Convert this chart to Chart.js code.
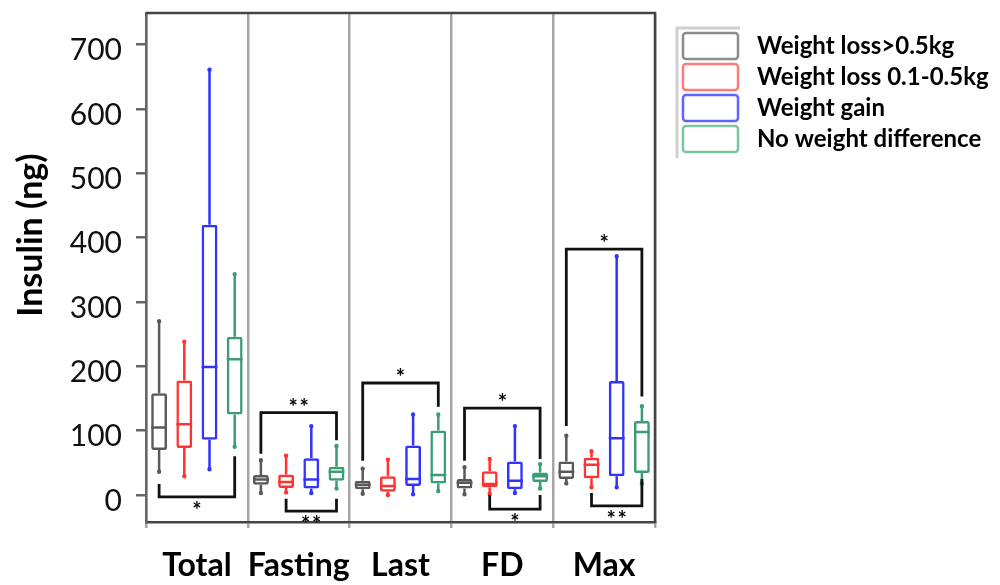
<!DOCTYPE html>
<html>
<head>
<meta charset="utf-8">
<script src="https://cdn.jsdelivr.net/npm/chart.js@4"></script>
<style>
  html, body { margin: 0; padding: 0; background: #fff; }
</style>
</head>
<body>
<canvas id="myChart" width="1000" height="585"></canvas>
<script>
var categories = ['Total', 'Fasting', 'Last', 'FD', 'Max']
var seriesNames = ['Weight loss>0.5kg', 'Weight loss 0.1-0.5kg', 'Weight gain', 'No weight difference']

// each entry: [min, q1, median, q3, max] for Total, Fasting, Last, FD, Max
var lossOver05 = [[36, 70, 105, 158, 270], [3, 16, 24, 31, 54], [2, 9, 16, 22, 41], [1, 10, 19, 25, 43], [18, 25, 36, 52, 92]]
var lossSmall = [[29, 73, 110, 178, 238], [4, 11, 20, 32, 61], [0, 5, 14, 29, 55], [2, 12, 17, 37, 56], [12, 26, 47, 58, 68]]
var weightGain = [[40, 86, 199, 420, 661], [3, 10, 24, 57, 107], [1, 14, 25, 77, 125], [3, 9, 22, 52, 107], [12, 29, 88, 177, 371]]
var noDiff = [[75, 125, 211, 246, 343], [10, 22, 36, 44, 76], [6, 18, 31, 100, 125], [10, 20, 29, 35, 48], [18, 34, 98, 115, 138]]

// significance brackets: [category, from series, to series, bar value, left leg end, right leg end, stars]
var brackets = [
  [0, 0, 3, -3, 17, 60, '*'],
  [1, 0, 3, 128, 64, 85, '**'],
  [1, 1, 3, -25, -6, -6, '**'],
  [2, 0, 3, 174, 53, 137, '*'],
  [3, 0, 3, 135, 53, 56, '*'],
  [3, 1, 3, -22, 0, 0, '*'],
  [4, 0, 3, 382, 107, 153, '*'],
  [4, 1, 3, -17, 3, 25, '**']
]

var lineColors = ['#595959', '#ff3333', '#3333ff', '#3a9d74']
var legendColors = ['#8c8c8c', '#ff7b7b', '#6262ff', '#7cc4a2']
var allStats = [lossOver05, lossSmall, weightGain, noDiff]

var boxPlugin = {
  id: 'boxes',
  afterDatasetsDraw: function (chart) {
    var ctx = chart.ctx
    var y = chart.scales.y
    var area = chart.chartArea

    // whiskers, medians
    chart.data.datasets.forEach(function (ds, i) {
      var meta = chart.getDatasetMeta(i)
      ds.stats.forEach(function (s, j) {
        var bar = meta.data[j]
        var x = bar.x
        var half = bar.width / 2
        ctx.save()
        ctx.strokeStyle = ds.borderColor
        ctx.fillStyle = ds.borderColor
        ctx.lineWidth = 2.5
        ctx.beginPath()
        ctx.moveTo(x, y.getPixelForValue(s[3]))
        ctx.lineTo(x, y.getPixelForValue(s[4]))
        ctx.moveTo(x, y.getPixelForValue(s[1]))
        ctx.lineTo(x, y.getPixelForValue(s[0]))
        ctx.moveTo(x - half, y.getPixelForValue(s[2]))
        ctx.lineTo(x + half, y.getPixelForValue(s[2]))
        ctx.stroke()
        ctx.beginPath()
        ctx.arc(x, y.getPixelForValue(s[4]), 2.2, 0, Math.PI * 2)
        ctx.arc(x, y.getPixelForValue(s[0]), 2.2, 0, Math.PI * 2)
        ctx.fill()
        ctx.restore()
      })
    })

    // brackets
    ctx.save()
    ctx.strokeStyle = '#111'
    ctx.fillStyle = '#000'
    ctx.lineWidth = 2.8
    ctx.lineJoin = 'miter'
    ctx.font = 'bold 22px Lato'
    ctx.textAlign = 'center'
    ctx.textBaseline = 'middle'
    brackets.forEach(function (b) {
      var x1 = chart.getDatasetMeta(b[1]).data[b[0]].x
      var x2 = chart.getDatasetMeta(b[2]).data[b[0]].x
      var yb = y.getPixelForValue(b[3])
      ctx.beginPath()
      ctx.moveTo(x1, y.getPixelForValue(b[4]))
      ctx.lineTo(x1, yb)
      ctx.lineTo(x2, yb)
      ctx.lineTo(x2, y.getPixelForValue(b[5]))
      ctx.stroke()
      var above = b[4] < b[3]
      var sy = above ? yb - 10 : yb + 9
      var cx = (x1 + x2) / 2
      var n = b[6].length
      for (var k = 0; k < n; k++) {
        ctx.fillText('*', cx + (k - (n - 1) / 2) * 11, sy + 5)
      }
    })
    ctx.restore()

    // top and right frame
    ctx.save()
    ctx.strokeStyle = '#444'
    ctx.lineWidth = 2.5
    ctx.beginPath()
    ctx.moveTo(area.left, area.top)
    ctx.lineTo(area.right, area.top)
    ctx.lineTo(area.right, area.bottom)
    ctx.stroke()
    ctx.restore()

    // y title
    ctx.save()
    ctx.translate(31, 235)
    ctx.rotate(-Math.PI / 2)
    ctx.font = 'bold 34px Lato'
    ctx.fillStyle = '#000'
    ctx.textAlign = 'center'
    ctx.textBaseline = 'middle'
    ctx.fillText('Insulin (ng)', 0, 0)
    ctx.restore()

    // legend
    ctx.save()
    ctx.strokeStyle = '#cfcfcf'
    ctx.lineWidth = 3
    ctx.beginPath()
    ctx.moveTo(677, 158)
    ctx.lineTo(677, 28)
    ctx.lineTo(740, 28)
    ctx.stroke()
    ctx.font = 'bold 24px Lato'
    ctx.textBaseline = 'middle'
    ctx.textAlign = 'left'
    chart.data.datasets.forEach(function (ds, i) {
      var top = 33 + i * 31
      ctx.strokeStyle = legendColors[i]
      ctx.lineWidth = 2.5
      ctx.beginPath()
      ctx.roundRect(683, top, 55, 26, 3)
      ctx.stroke()
      ctx.fillStyle = '#000'
      ctx.fillText(ds.label, 757, top + 13)
    })
    ctx.restore()
  }
}

var datasets = seriesNames.map(function (name, i) {
  return {
    label: name,
    stats: allStats[i],
    data: allStats[i].map(function (s) { return [s[1], s[3]] }),
    backgroundColor: 'rgba(255,255,255,0)',
    borderColor: lineColors[i],
    borderWidth: 2.5,
    borderSkipped: false,
    borderRadius: 2,
    categoryPercentage: 0.99,
    barPercentage: 0.63
  }
})

var ctx = document.getElementById('myChart').getContext('2d')
var myChart = new Chart(ctx, {
  type: 'bar',
  data: {
    labels: categories,
    datasets: datasets
  },
  options: {
    responsive: false,
    animation: false,
    layout: { padding: { top: 13, right: 345, left: 0, bottom: 0 } },
    plugins: {
      legend: { display: false },
      tooltip: { enabled: false }
    },
    scales: {
      x: {
        grid: { offset: true, color: '#a6a6a6', lineWidth: 2.5, tickLength: 6 },
        border: { color: '#444', width: 2.5 },
        ticks: {
          color: '#000',
          font: { family: 'Lato', weight: 'bold', size: 32 },
          padding: 18,
          autoSkip: false,
          maxRotation: 0,
          minRotation: 0
        },
        afterFit: function (s) { s.height = 63 }
      },
      y: {
        min: -42,
        max: 749,
        grid: { drawOnChartArea: false, tickLength: 10, color: '#666', lineWidth: 2.5 },
        border: { color: '#666', width: 2.5 },
        ticks: {
          stepSize: 50,
          includeBounds: false,
          padding: 14,
          labelOffset: 6,
          color: '#111',
          font: { family: 'Lato', size: 30 },
          callback: function (v) { return v % 100 === 0 ? v : '' }
        },
        afterFit: function (s) {
          s.width = 146
          s.paddingTop = 0
          s.paddingBottom = 0
        }
      }
    }
  },
  plugins: [boxPlugin]
})
</script>
</body>
</html>
